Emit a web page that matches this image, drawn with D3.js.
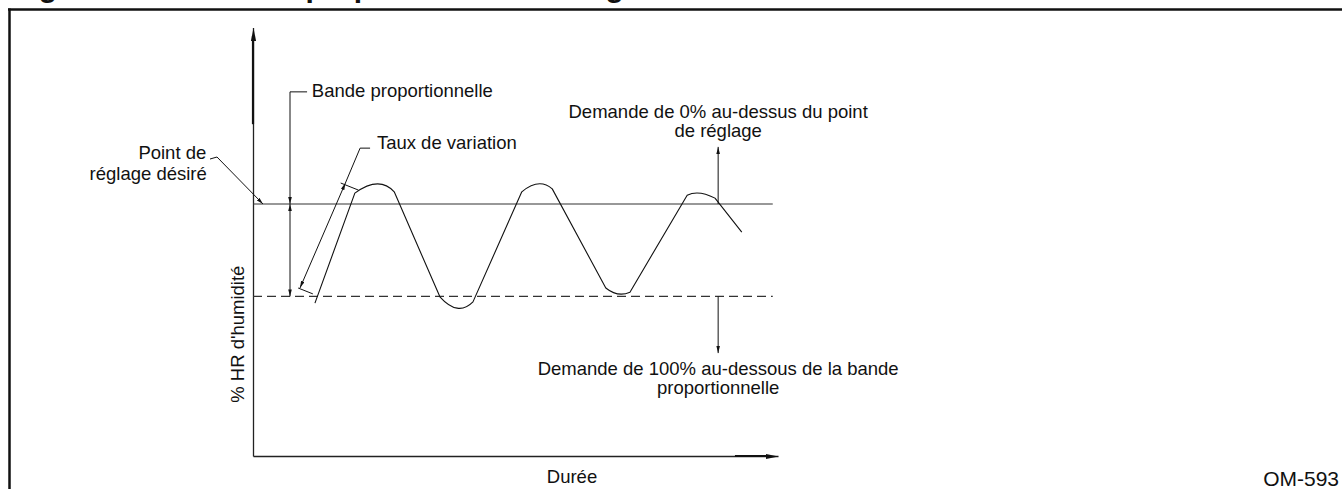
<!DOCTYPE html>
<html>
<head>
<meta charset="utf-8">
<script src="https://cdn.jsdelivr.net/npm/d3@7"></script>
<style>
  html, body { margin: 0; padding: 0; background: #fff; }
  text { font-family: "Liberation Sans", Arial, sans-serif; fill: #111; }
</style>
</head>
<body>
<div id="chart"></div>
<script>
// values (time units / % RH units, arbitrary scale)
// index 0 = start, then (shoulder, apex, shoulder) triplets, last = end
var timeValues     = [11.8, 19.4, 23.6, 26.9, 35.6, 38.9, 41.9, 51.2, 54.3, 57.0, 67.2, 69.5, 71.8, 82.7, 85.1, 88.0, 93.1];
var humidityValues = [36.4, 62.6, 64.8, 62.9, 37.9, 35.2, 36.7, 62.9, 64.8, 63.6, 40.0, 38.6, 39.0, 62.1, 62.6, 61.4, 53.3];
var setpoint = 60;
var bandLow = 38;
var lineEnd = 99;
var demandX = 88.6;
var demandTop = 73.6;
var demandBottom = 24.5;

var titleText = "Figure 10-14. Bande proportionnelle de régulation";
var xLabel = "Durée";
var yLabel = "% HR d'humidité";
var refCode = "OM-593";

var width = 1342, height = 489;

var svg = d3.select("#chart")
    .append("svg")
    .attr("width", width)
    .attr("height", height);

// scales
var x = d3.scaleLinear().domain([0, 100]).range([253, 778]);
var y = d3.scaleLinear().domain([0, 102]).range([456, 27.6]);

// arrow heads
var defs = svg.append("defs");
function marker(id, len, half) {
    defs.append("marker")
        .attr("id", id)
        .attr("markerUnits", "userSpaceOnUse")
        .attr("viewBox", "0 0 " + len + " " + (half * 2))
        .attr("refX", len)
        .attr("refY", half)
        .attr("markerWidth", len)
        .attr("markerHeight", half * 2)
        .attr("orient", "auto-start-reverse")
        .append("path")
        .attr("d", "M0,0L" + len + "," + half + "L0," + (half * 2) + "Z")
        .attr("fill", "#111");
}
marker("arrowBig", 13, 2.6);
marker("arrowSmall", 7, 1.8);

// title (cut off at the top of the picture)
svg.append("text")
    .attr("x", 12)
    .attr("y", -3.5)
    .attr("font-size", "30px")
    .attr("font-weight", "bold")
    .text(titleText);

// frame
svg.append("line").attr("x1", 8).attr("x2", width).attr("y1", 9.5).attr("y2", 9.5)
    .attr("stroke", "#111").attr("stroke-width", 2.5);
svg.append("line").attr("x1", 9.5).attr("x2", 9.5).attr("y1", 8.5).attr("y2", height)
    .attr("stroke", "#111").attr("stroke-width", 2.5);

// axes, no ticks, arrows at the ends
var gx = svg.append("g")
    .attr("transform", "translate(0," + y(0) + ")")
    .call(d3.axisBottom(x).tickValues([]).tickSizeOuter(0));
gx.select(".domain").attr("stroke", "#222").attr("stroke-width", 1.3).attr("marker-end", "url(#arrowBig)");

var gy = svg.append("g")
    .attr("transform", "translate(" + x(0) + ",0)")
    .call(d3.axisLeft(y).tickValues([]).tickSizeOuter(0));
gy.select(".domain").attr("stroke", "#222").attr("stroke-width", 1.3).attr("marker-end", "url(#arrowBig)");

// heavier stroke near the arrow ends, as in the scan
svg.append("line").attr("x1", x(0)).attr("x2", x(0)).attr("y1", y(100)).attr("y2", y(79))
    .attr("stroke", "#111").attr("stroke-width", 2.2);
svg.append("line").attr("x1", x(91.8)).attr("x2", x(98)).attr("y1", y(0)).attr("y2", y(0))
    .attr("stroke", "#111").attr("stroke-width", 2.2);

// setpoint and lower band limit
svg.append("line")
    .attr("x1", x(0)).attr("x2", x(lineEnd))
    .attr("y1", y(setpoint)).attr("y2", y(setpoint))
    .attr("stroke", "#333").attr("stroke-width", 1.2);
svg.append("line")
    .attr("x1", x(0)).attr("x2", x(lineEnd))
    .attr("y1", y(bandLow)).attr("y2", y(bandLow))
    .attr("stroke", "#333").attr("stroke-width", 1.2)
    .attr("stroke-dasharray", "9,5");

// humidity curve: straight ramps, rounded caps through each apex
var pts = timeValues.map(function (t, i) { return [x(t), y(humidityValues[i])]; });
var p = d3.path();
p.moveTo(pts[0][0], pts[0][1]);
for (var i = 1; i + 2 < pts.length; i += 3) {
    var a = pts[i], m = pts[i + 1], b = pts[i + 2];
    p.lineTo(a[0], a[1]);
    p.quadraticCurveTo(2 * m[0] - (a[0] + b[0]) / 2, 2 * m[1] - (a[1] + b[1]) / 2, b[0], b[1]);
}
p.lineTo(pts[pts.length - 1][0], pts[pts.length - 1][1]);
svg.append("path")
    .attr("d", p.toString())
    .attr("fill", "none")
    .attr("stroke", "#111")
    .attr("stroke-width", 1.1)
    .attr("stroke-linejoin", "round");

// helper for annotation lines in data units
function seg(list, opts) {
    opts = opts || {};
    var s = svg.append("path")
        .attr("d", d3.line().x(function (d) { return x(d[0]); }).y(function (d) { return y(d[1]); })(list))
        .attr("fill", "none")
        .attr("stroke", "#111")
        .attr("stroke-width", 1);
    if (opts.start) s.attr("marker-start", "url(#arrowSmall)");
    if (opts.end) s.attr("marker-end", "url(#arrowSmall)");
    return s;
}
function label(tx, ty, str, anchor) {
    return svg.append("text")
        .attr("x", x(tx))
        .attr("y", y(ty))
        .attr("font-size", "18.5px")
        .attr("text-anchor", anchor || "start")
        .text(str);
}

// "Bande proportionnelle"
seg([[10.3, 86.7], [7.05, 86.7], [7.05, setpoint]], {end: true});
seg([[7.05, setpoint], [7.05, bandLow]], {start: true, end: true});
label(11.2, 85.5, "Bande proportionnelle");

// "Taux de variation"
seg([[16.7, 65.0], [20.1, 63.3]]);
seg([[8.6, 40.0], [11.4, 38.6]]);
seg([[8.95, 40.0], [17.6, 65.0]], {start: true, end: true});
seg([[17.6, 65.0], [20.4, 73.3], [22.3, 73.3]]);
label(23.6, 73.1, "Taux de variation");

// "Point de réglage désiré"
seg([[-8.19, 70.71], [-6.86, 71.19], [1.9, setpoint]], {end: true});
label(-8.9, 70.7, "Point de", "end");
label(-8.8, 65.7, "réglage désiré", "end");

// demand arrows
seg([[demandX, setpoint], [demandX, demandTop]], {end: true});
seg([[demandX, bandLow], [demandX, demandBottom]], {end: true});
label(demandX, 80.5, "Demande de 0% au-dessus du point", "middle");
label(demandX, 76.0, "de réglage", "middle");
label(demandX, 19.3, "Demande de 100% au-dessous de la bande", "middle");
label(demandX, 14.8, "proportionnelle", "middle");

// axis labels
svg.append("text")
    .attr("transform", "translate(244," + (y(29)) + ") rotate(-90)")
    .attr("font-size", "18.5px")
    .attr("text-anchor", "middle")
    .text(yLabel);
svg.append("text")
    .attr("x", 572)
    .attr("y", 483)
    .attr("font-size", "18.5px")
    .attr("text-anchor", "middle")
    .text(xLabel);

svg.append("text")
    .attr("x", 1339)
    .attr("y", 486)
    .attr("font-size", "21px")
    .attr("text-anchor", "end")
    .text(refCode);
</script>
</body>
</html>
